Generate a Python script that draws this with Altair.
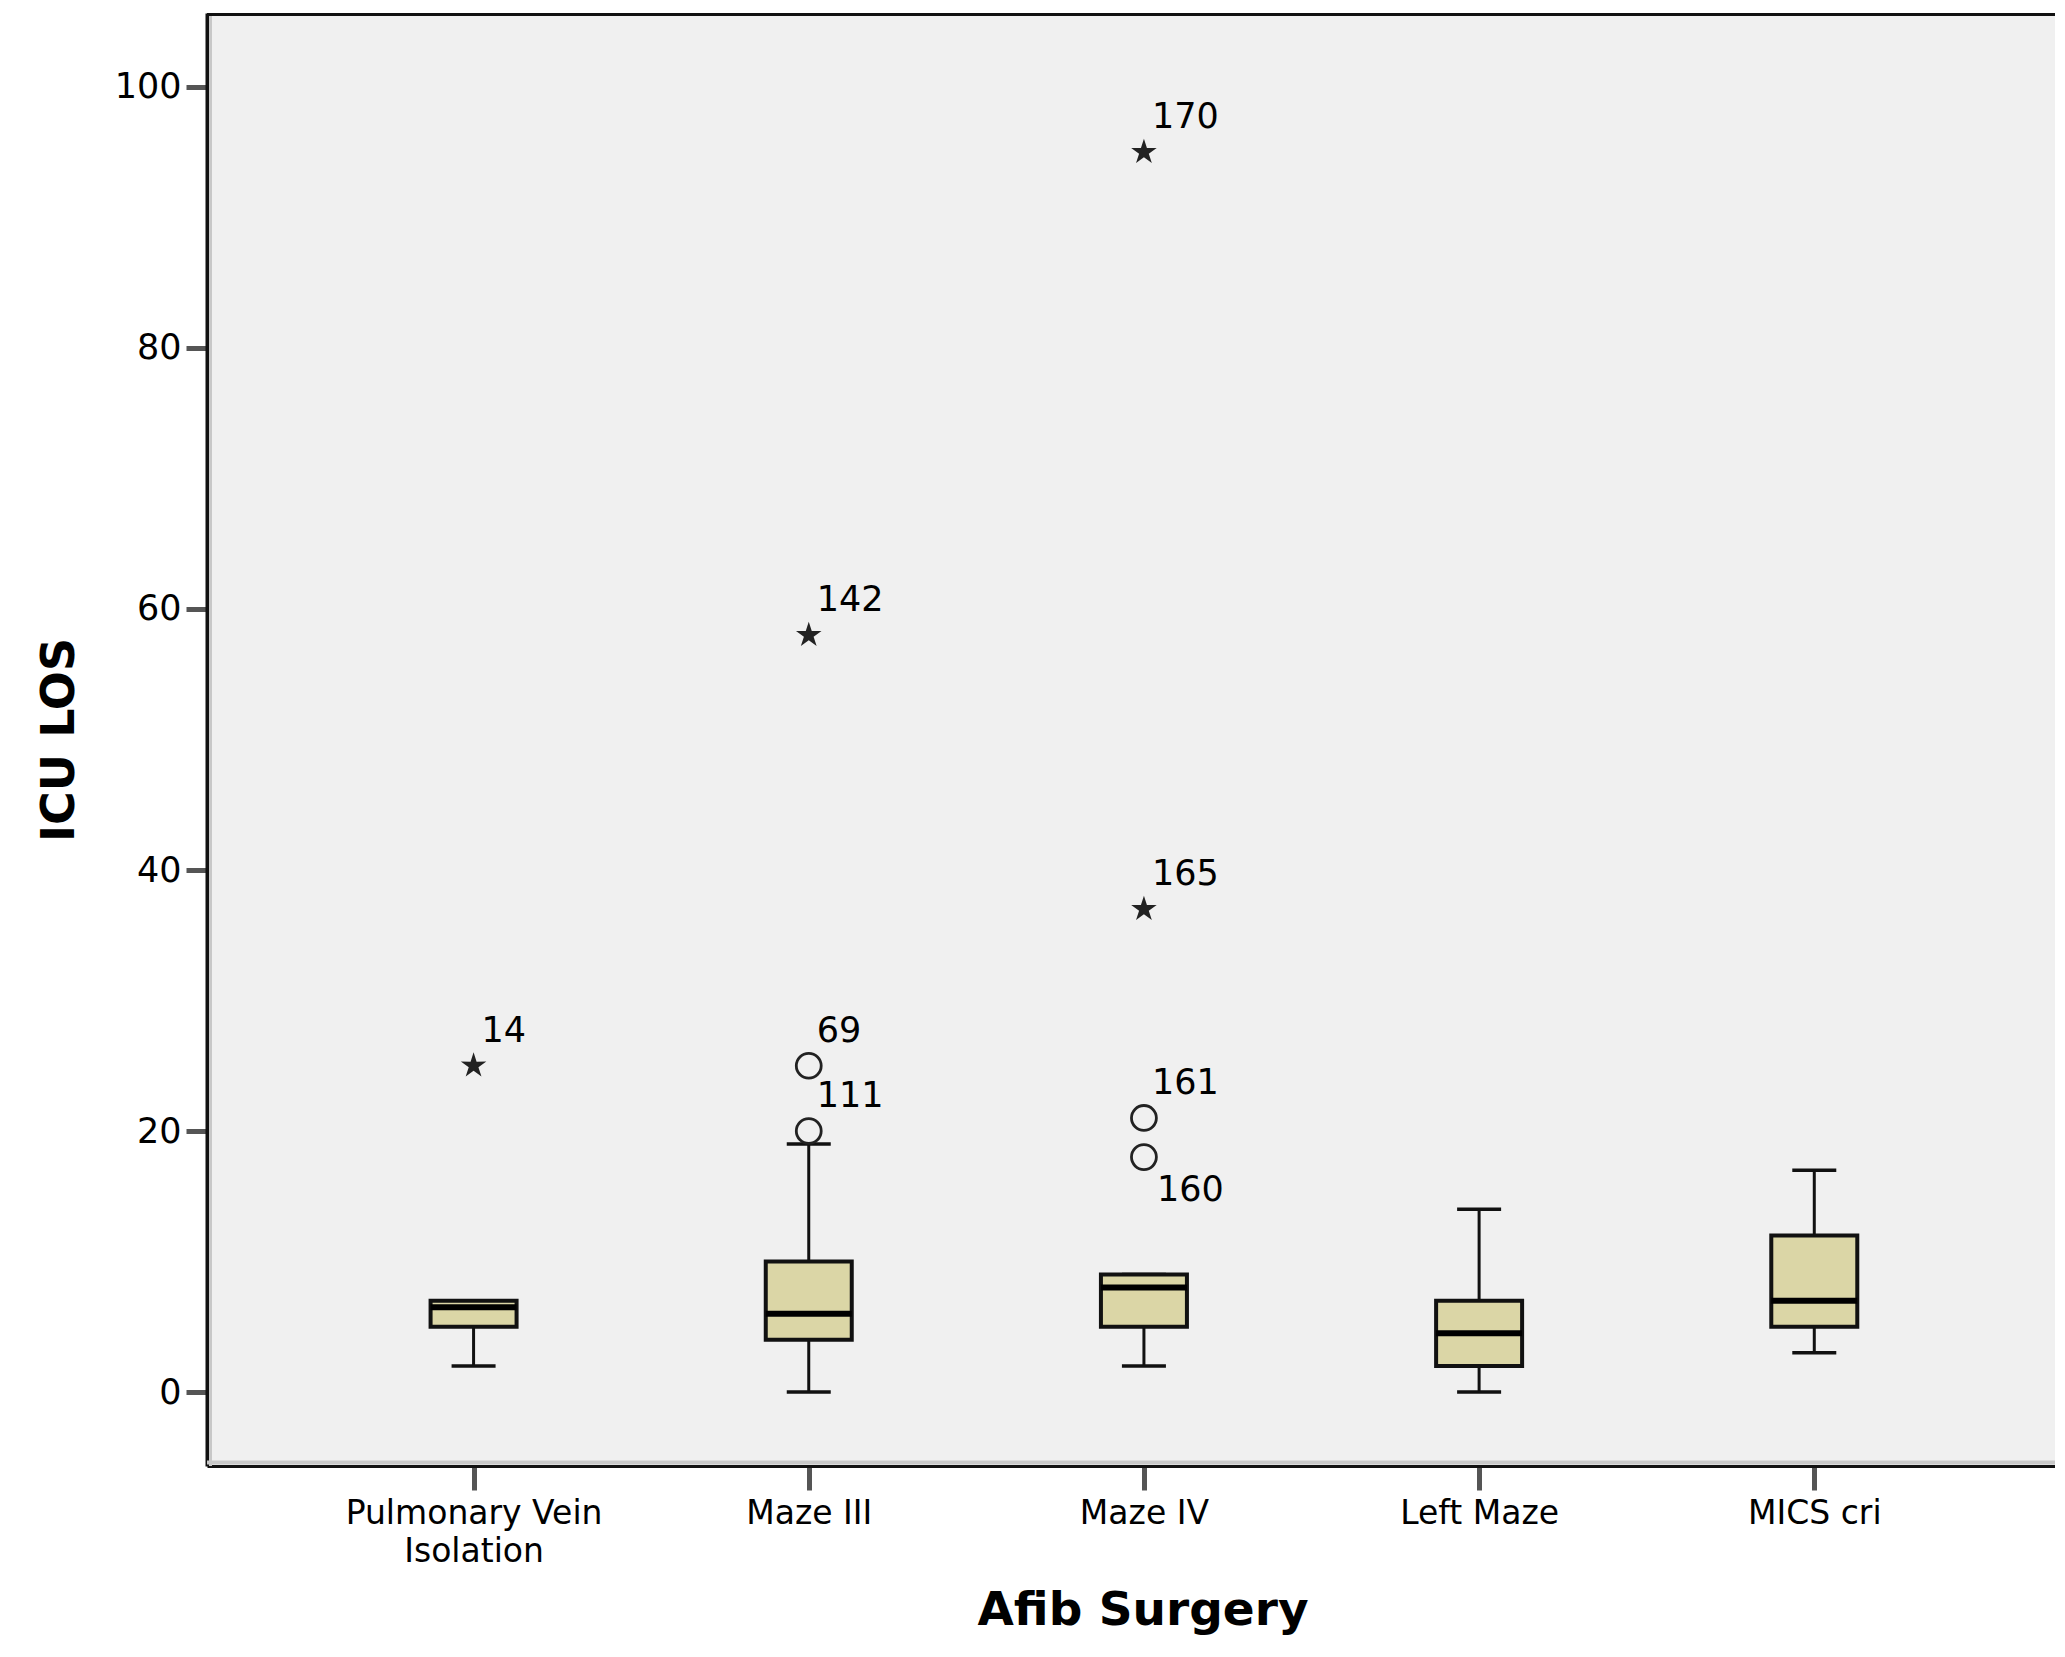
import altair as alt
import pandas as pd

# ---- data ----
categories = ["Pulmonary Vein|Isolation", "Maze III", "Maze IV", "Left Maze", "MICS cri"]
whisker_low = [2, 0, 2, 0, 3]
q1 = [5, 4, 5, 2, 5]
median = [6.5, 6, 8, 4.5, 7]
q3 = [7, 10, 9, 7, 12]
whisker_high = [7, 19, 9, 14, 17]

outlier_cat = [0, 1, 1, 1, 2, 2, 2, 2]
outlier_val = [25, 25, 20, 58, 21, 18, 37, 95]
outlier_id = ["14", "69", "111", "142", "161", "160", "165", "170"]
outlier_kind = ["extreme", "outlier", "outlier", "extreme", "outlier", "outlier", "extreme", "extreme"]
label_side = ["above", "above", "above", "above", "above", "below", "above", "above"]

y_ticks = [0, 20, 40, 60, 80, 100]

# ---- tables ----
boxes = pd.DataFrame({
    "idx": list(range(len(categories))),
    "lo": whisker_low, "q1": q1, "med": median, "q3": q3, "hi": whisker_high,
})
outs = pd.DataFrame({
    "idx": outlier_cat, "val": outlier_val, "oid": outlier_id,
    "kind": outlier_kind, "side": label_side,
})

W, H = 1848, 1453
step_px = 337.0
first_px = 263.0
x_d0 = -first_px / step_px
x_d1 = x_d0 + W / step_px

label_expr = "split([" + ",".join("'" + c + "'" for c in categories) + "][datum.value], '|')"

STAR = ("M0,-1L0.2235,-0.3074L0.951,-0.309L0.3614,0.1174L0.588,0.809L0,0.38"
        "L-0.588,0.809L-0.3614,0.1174L-0.951,-0.309L-0.2235,-0.3074Z")

xscale = alt.Scale(domain=[x_d0, x_d1], nice=False, zero=False)
yscale = alt.Scale(domain=[-5.67, 105.67], nice=False, zero=False)

xaxis = alt.Axis(
    orient="bottom",
    values=list(range(len(categories))), labelExpr=label_expr, grid=False,
    domain=True, domainColor="#111111", domainWidth=3,
    ticks=True, tickSize=24, tickWidth=5, tickColor="#555555",
    labelFont="DejaVu Sans", labelFontSize=33, labelColor="#000000",
    labelPadding=7, labelLineHeight=38, labelFlush=False, labelOverlap=False,
    labelLimit=0, labelBaseline="top",
    title="Afib Surgery", titleFont="DejaVu Sans", titleFontWeight="bold",
    titleFontSize=47, titleColor="#000000", titleX=935.5, titleY=158,
    titleBaseline="alphabetic", titleAlign="center",
)
yaxis = alt.Axis(
    orient="left",
    values=y_ticks, grid=False,
    domain=True, domainColor="#111111", domainWidth=4,
    ticks=True, tickSize=21, tickWidth=5, tickColor="#555555",
    labelFont="DejaVu Sans", labelFontSize=35, labelColor="#000000",
    labelPadding=5, labelFlush=False,
    title="ICU LOS", titleFont="DejaVu Sans", titleFontWeight="bold",
    titleFontSize=46, titleColor="#000000", titleX=-134, titleY=H / 2,
    titleAngle=270, titleBaseline="alphabetic", titleAlign="center",
)

base = alt.Chart(boxes)
X = alt.X("idx:Q", scale=xscale, axis=xaxis)

# inner shading along left/bottom borders and top border
deco = pd.DataFrame({"a": [0]})
left_shade = alt.Chart(deco).mark_rule(color="#c8c8c8", strokeWidth=3).encode(
    x=alt.value(3.5), y=alt.value(0), y2=alt.value(H))
bottom_shade = alt.Chart(deco).mark_rule(color="#c8c8c8", strokeWidth=4).encode(
    x=alt.value(0), x2=alt.value(W), y=alt.value(H - 3.5))
top_border = alt.Chart(deco).mark_rule(color="#111111", strokeWidth=3).encode(
    x=alt.value(0), x2=alt.value(W), y=alt.value(1.5))

whisk_low = base.mark_rule(color="#111111", strokeWidth=3).encode(
    x=X, y=alt.Y("lo:Q", scale=yscale, axis=yaxis), y2="q1:Q")
whisk_high = base.mark_rule(color="#111111", strokeWidth=3).encode(
    x=X, y=alt.Y("q3:Q", scale=yscale, axis=yaxis), y2="hi:Q")
cap_low = base.mark_tick(orient="horizontal", size=44, thickness=3.5, color="#111111", opacity=1).encode(
    x=X, y=alt.Y("lo:Q", scale=yscale, axis=yaxis))
cap_high = base.mark_tick(orient="horizontal", size=44, thickness=3.5, color="#111111", opacity=1).encode(
    x=X, y=alt.Y("hi:Q", scale=yscale, axis=yaxis))
box = base.mark_bar(size=86, fill="#dbd6a6", stroke="#111111", strokeWidth=4).encode(
    x=X, y=alt.Y("q1:Q", scale=yscale, axis=yaxis), y2="q3:Q")
med = base.mark_tick(orient="horizontal", size=86, thickness=6, color="#000000", opacity=1).encode(
    x=X, y=alt.Y("med:Q", scale=yscale, axis=yaxis))

obase = alt.Chart(outs)
circles = obase.transform_filter(alt.datum.kind == "outlier").mark_point(
    shape="circle", filled=False, size=620, strokeWidth=2.8, color="#222222", opacity=1).encode(
    x=X, y=alt.Y("val:Q", scale=yscale, axis=yaxis))
stars = obase.transform_filter(alt.datum.kind == "extreme").mark_point(
    shape=STAR, filled=True, size=720, color="#222222", opacity=1).encode(
    x=X, y=alt.Y("val:Q", scale=yscale, axis=yaxis))
lab_above = obase.transform_filter(alt.datum.side == "above").mark_text(
    align="left", baseline="alphabetic", dx=8, dy=-24, font="DejaVu Sans", fontSize=35,
    color="#000000").encode(
    x=X, y=alt.Y("val:Q", scale=yscale, axis=yaxis), text="oid:N")
lab_below = obase.transform_filter(alt.datum.side == "below").mark_text(
    align="left", baseline="alphabetic", dx=13, dy=44, font="DejaVu Sans", fontSize=35,
    color="#000000").encode(
    x=X, y=alt.Y("val:Q", scale=yscale, axis=yaxis), text="oid:N")

chart = alt.layer(
    left_shade, bottom_shade,
    whisk_low, whisk_high, cap_low, cap_high, box, med,
    circles, stars, lab_above, lab_below, top_border,
).properties(
    width=W, height=H,
    autosize=alt.AutoSizeParams(type="none"),
    padding={"left": 199, "top": 5, "right": 0, "bottom": 176},
    background="#ffffff",
).configure_view(fill="#f0f0f0", stroke="transparent")

chart.save("out.html", embed_options={"renderer": "svg", "actions": False})
